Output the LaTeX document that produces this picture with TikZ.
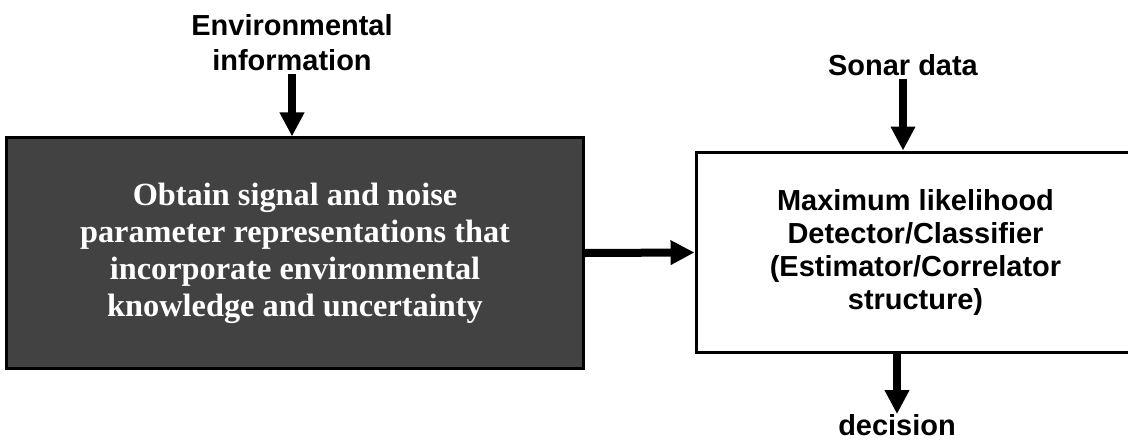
\documentclass[tikz,border=0pt]{standalone}
\usepackage{fontspec}
\setmainfont{Liberation Serif}
\setsansfont{Liberation Sans}
\usetikzlibrary{arrows.meta,positioning}
\definecolor{mydarkgray}{gray}{.26}
\newcommand{\widthborder}{0.075cm}
\newcommand{\widthshaft}{0.2cm}
\tikzset{
    common/.style={draw, rectangle, line width=\widthborder, align=center, inner sep=0pt},
    darkbox/.style={common, fill=mydarkgray, text=white,
        font=\bfseries\fontsize{23}{26.3}\selectfont},
    lightbox/.style={common, fill=white,
        font=\sffamily\bfseries\fontsize{20.6}{23.5}\selectfont},
    caption/.style={align=center, inner sep=2pt,
        font=\sffamily\bfseries\fontsize{20.6}{24.9}\selectfont},
    flow/.style={line width=\widthshaft, -{Triangle[length=0.6cm, width=0.58cm]}}
}

\begin{document}
\begin{tikzpicture}[x=0.025cm, y=-0.025cm]
    \useasboundingbox (0,0) rectangle (1128,442);

    % the two blocks
    \node[darkbox, minimum width=14.4cm, minimum height=5.75cm] (obtain) at (295,253)
        {Obtain signal and noise\\parameter representations that\\incorporate environmental\\knowledge and uncertainty};
    \node[lightbox, minimum width=10.97cm, minimum height=5.02cm] (detector) at (915.5,252.5)
        {Maximum likelihood\\Detector/Classifier\\(Estimator/Correlator\\structure)};

    % inputs and output
    \node[caption] (envinfo) at (292,43) {Environmental\\information};
    \node[caption] (sonar) at (903,65) {Sonar data};
    \node[caption, inner sep=0pt] (decision) at (897,425) {decision};

    \draw[flow] (envinfo.south) -- (envinfo.south |- obtain.north);
    \draw[flow] (sonar.south) -- (sonar.south |- detector.north);
    \draw[flow] (obtain.east) -- (detector.west);
    \draw[flow] (detector.south -| decision.north) -- (decision.north);
\end{tikzpicture}
\end{document}
